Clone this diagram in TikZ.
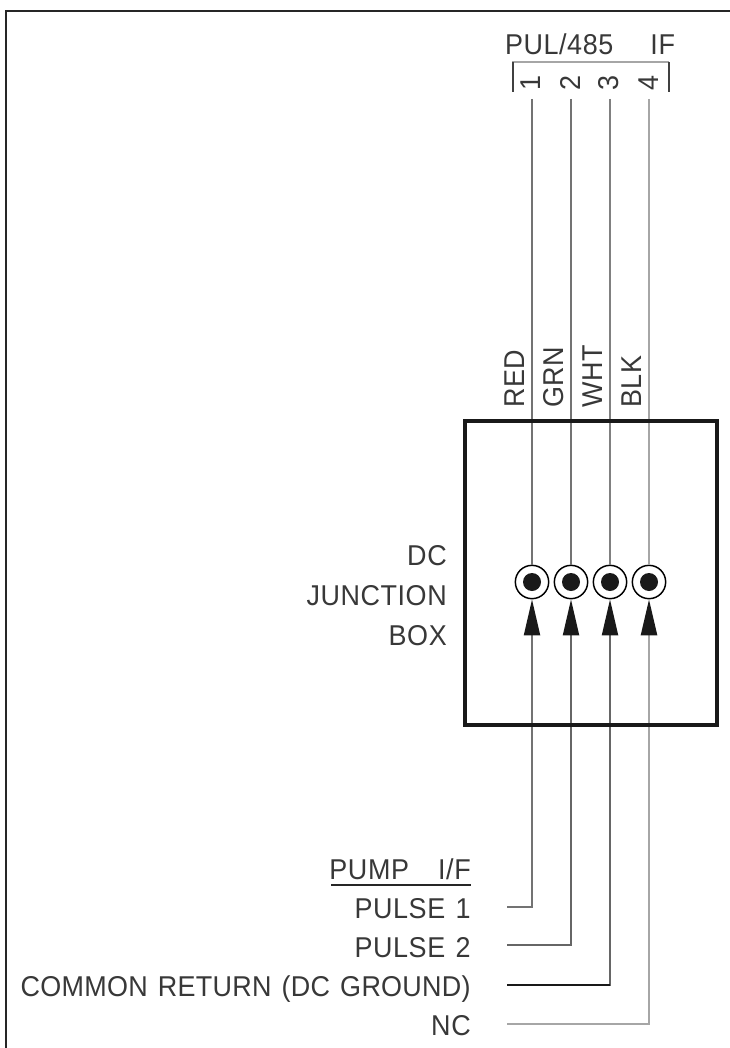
\documentclass[tikz,border=0pt]{standalone}
\usepackage{fontspec}
\setmainfont[FakeStretch=0.94,LetterSpace=2,WordSpace=1.3]{Liberation Sans}
\usetikzlibrary{arrows.meta}
\tikzset{
  wire/.style={line width=1.5pt},
  label/.style={font=\fontsize{21.5}{22}\selectfont,text=black!78,inner sep=0pt},
  ring/.style={circle,draw,line width=1.1pt,minimum size=25pt,inner sep=0pt},
  dot/.style={circle,fill=black!90,minimum size=13.5pt,inner sep=0pt},
  tip/.style={-{Triangle[length=27pt,width=12pt,black!90]}},
}
\begin{document}
\begin{tikzpicture}[x=0.75pt,y=0.75pt,yscale=-1,xscale=1]
\useasboundingbox (0,0) rectangle (730,1048);

%Shape: Outer frame
\draw [line width=1.5pt,black!85] (730,11) -- (6,11) -- (6,1048);

% Text Node: header
\node [label,anchor=base] (header) at (590,55) {PUL/485\hspace{20pt} IF};
\draw [line width=1.8pt,black!35] (512,62) -- (669,62);
\draw [line width=1.5pt,black!75] (513,62) -- (513,92) (669,62) -- (669,92);

% Pin numbers
\node [label,rotate=90] (pin1) at (531,83) {1};
\node [label,rotate=90] (pin2) at (570,83) {2};
\node [label,rotate=90] (pin3) at (609,83) {3};
\node [label,rotate=90] (pin4) at (649,83) {4};

% Wire colours
\node [label,rotate=90,anchor=west] (red) at (515,408) {RED};
\node [label,rotate=90,anchor=west] (grn) at (554,408) {GRN};
\node [label,rotate=90,anchor=west] (wht) at (593,408) {WHT};
\node [label,rotate=90,anchor=west] (blk) at (632,408) {BLK};

% Terminals
\node [ring] (term1) at (532,582) {};
\node [ring] (term2) at (571,582) {};
\node [ring] (term3) at (610,582) {};
\node [ring] (term4) at (649,582) {};
\node [dot] (dot1) at (term1) {};
\node [dot] (dot2) at (term2) {};
\node [dot] (dot3) at (term3) {};
\node [dot] (dot4) at (term4) {};

% Wire ends
\coordinate (top1) at (532,99);
\coordinate (top2) at (571,99);
\coordinate (top3) at (610,99);
\coordinate (top4) at (649,99);
\coordinate (end1) at (507,907);
\coordinate (end2) at (507,945);
\coordinate (end3) at (507,985);
\coordinate (end4) at (507,1024);

% Wires, top part
\draw [wire,black!55] (top1) -- (term1.north);
\draw [wire,black!55] (top2) -- (term2.north);
\draw [wire,black!50] (top3) -- (term3.north);
\draw [wire,black!35,line width=1.9pt] (top4) -- (term4.north);

% Wires, bottom part
\draw [wire,black!55,tip] (end1) -| (term1.south);
\draw [wire,black!60,tip] (end2) -| (term2.south);
\draw [wire,black!60,tip] (end3) -| (term3.south);
\draw [wire,black!90] (end3) -- (end3 -| term3);
\draw [wire,black!35,line width=1.9pt,tip] (end4) -| (term4.south);

%Shape: Junction box
\node [draw,line width=3pt,black!90,minimum width=189pt,minimum height=228pt,inner sep=0pt] (box) at (591,573) {};

% Text Node: box name
\node [label,anchor=base east] (dc) at (447,565) {DC};
\node [label,anchor=base east] (junction) at (447,605) {JUNCTION};
\node [label,anchor=base east] (boxname) at (447,645) {BOX};

% Text Node: pump list
\node [label,anchor=base east] (pump) at (471,879) {PUMP\hspace{14pt} I/F};
\draw [line width=1.3pt,black!85] (331,885) -- (471,885);
\node [label,anchor=base east] (pulsea) at (471,918) {PULSE 1};
\node [label,anchor=base east] (pulseb) at (471,957) {PULSE 2};
\node [label,anchor=base east] (common) at (471,996) {\addfontfeatures{LetterSpace=1}COMMON RETURN (DC GROUND)};
\node [label,anchor=base east] (nc) at (471,1035) {NC};

\end{tikzpicture}
\end{document}
